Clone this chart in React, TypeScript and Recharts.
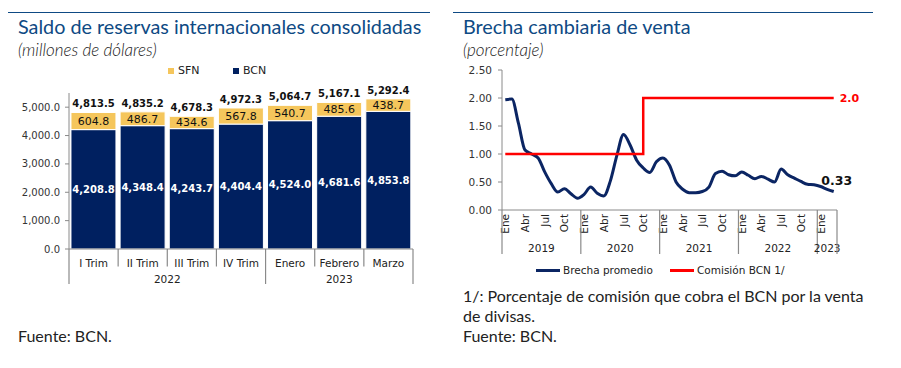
import React from 'react';
import { BarChart, Bar, XAxis, YAxis, LabelList, Legend, LineChart, Line } from 'recharts';

// izquierda: saldo de reservas
const periods = ['I Trim', 'II Trim', 'III Trim', 'IV Trim', 'Enero', 'Febrero', 'Marzo'];
const periodYears = ['2022', '2022', '2022', '2022', '2023', '2023', '2023'];
const bcnValues = [4208.8, 4348.4, 4243.7, 4404.4, 4524.0, 4681.6, 4853.8];
const sfnValues = [604.8, 486.7, 434.6, 567.8, 540.7, 485.6, 438.7];
const totalValues = [4813.5, 4835.2, 4678.3, 4972.3, 5064.7, 5167.1, 5292.4];
const reserveTicks = [0, 1000, 2000, 3000, 4000, 5000];

// derecha: brecha cambiaria
const monthNames = ['Ene', 'Feb', 'Mar', 'Abr', 'May', 'Jun', 'Jul', 'Ago', 'Sep', 'Oct', 'Nov', 'Dic'];
const shownMonths = ['Ene', 'Abr', 'Jul', 'Oct'];
const gapYears = ['2019', '2020', '2021', '2022', '2023'];
const brecha = [
  1.97, 1.98, 1.55, 1.07, 1.0, 0.93, 0.68, 0.47, 0.32, 0.38, 0.29, 0.21,
  0.28, 0.41, 0.3, 0.25, 0.52, 0.98, 1.35, 1.16, 0.89, 0.75, 0.67, 0.86,
  0.93, 0.8, 0.5, 0.37, 0.31, 0.31, 0.33, 0.41, 0.65, 0.69, 0.63, 0.61,
  0.68, 0.62, 0.56, 0.6, 0.55, 0.5, 0.73, 0.63, 0.57, 0.51, 0.46, 0.45,
  0.42, 0.37, 0.33,
];
const comision = [
  1.0, 1.0, 1.0, 1.0, 1.0, 1.0, 1.0, 1.0, 1.0, 1.0, 1.0, 1.0,
  1.0, 1.0, 1.0, 1.0, 1.0, 1.0, 1.0, 1.0, 1.0, 2.0, 2.0, 2.0,
  2.0, 2.0, 2.0, 2.0, 2.0, 2.0, 2.0, 2.0, 2.0, 2.0, 2.0, 2.0,
  2.0, 2.0, 2.0, 2.0, 2.0, 2.0, 2.0, 2.0, 2.0, 2.0, 2.0, 2.0,
  2.0, 2.0, 2.0,
];
const gapTicks = [0, 0.5, 1, 1.5, 2, 2.5];

const NAVY = '#002060';
const GOLD = '#f5c65c';
const LINE_NAVY = '#0b2563';
const TITLE = '#0e4a84';
const AXIS = '#8a8a8a';
const MONO = "'DejaVu Sans', Verdana, sans-serif";

const fmt1 = (v: any) =>
  Number(v).toLocaleString('en-US', { minimumFractionDigits: 1, maximumFractionDigits: 1 });

const barData = periods.map((p, i) => ({
  name: p,
  year: periodYears[i],
  bcn: bcnValues[i],
  sfn: sfnValues[i],
  total: totalValues[i],
}));

const gapData = brecha.map((v, i) => ({
  key: gapYears[Math.floor(i / 12)] + '-' + monthNames[i % 12],
  year: gapYears[Math.floor(i / 12)],
  month: monthNames[i % 12],
  brecha: v,
  comision: comision[i],
}));

const countIn = (rows: { year: string }[], year: string) => rows.filter(r => r.year === year).length;

const PeriodTick = (props: any) => {
  const { x, y, payload, index } = props;
  const half = payload?.offset || 24.6;
  const row = barData[index];
  const first = index === 0 || barData[index - 1].year !== row.year;
  const last = index === barData.length - 1 || barData[index + 1].year !== row.year;
  const n = countIn(barData, row.year);
  return (
    <g>
      <text x={x} y={y + 14} textAnchor="middle" dominantBaseline="central" fontSize={10.5} fontFamily={MONO} fill="#222">
        {payload.value}
      </text>
      {index === 0 && <line x1={x - half} x2={x - half} y1={y} y2={y + 35} stroke={AXIS} strokeWidth={1.2} />}
      <line x1={x + half} x2={x + half} y1={y} y2={last ? y + 35 : y + 17.5} stroke={AXIS} strokeWidth={1.2} />
      {first && (
        <text x={x - half + n * half} y={y + 30} textAnchor="middle" dominantBaseline="central" fontSize={10.5} fontFamily={MONO} fill="#222">
          {row.year}
        </text>
      )}
    </g>
  );
};

const MonthTick = (props: any) => {
  const { x, y, payload, index } = props;
  const half = payload?.offset || 3.29;
  const row = gapData[index];
  const first = index === 0 || gapData[index - 1].year !== row.year;
  const n = countIn(gapData, row.year);
  return (
    <g>
      {shownMonths.includes(row.month) && (
        <text transform={`translate(${x},${y + 4}) rotate(-90)`} textAnchor="end" dominantBaseline="central" fontSize={10.5} fontFamily={MONO} fill="#222">
          {row.month}
        </text>
      )}
      {first && <line x1={x - half} x2={x - half} y1={y} y2={y + 44} stroke={AXIS} strokeWidth={1.2} />}
      {index === gapData.length - 1 && <line x1={x + half} x2={x + half} y1={y} y2={y + 44} stroke={AXIS} strokeWidth={1.2} />}
      {first && (
        <text x={x - half + n * half} y={y + 38} textAnchor="middle" dominantBaseline="central" fontSize={10.5} fontFamily={MONO} fill="#222">
          {row.year}
        </text>
      )}
    </g>
  );
};

const BarLegend = (props: any) => {
  const items = [...(props.payload || [])].reverse();
  return (
    <div style={{ display: 'flex', fontFamily: MONO, fontSize: 11, color: '#222' }}>
      {items.map((it: any) => (
        <div key={it.value} style={{ display: 'flex', alignItems: 'center', width: 65 }}>
          <span style={{ width: 6, height: 6, background: it.color, marginRight: 4 }} />
          <span>{it.value}</span>
        </div>
      ))}
    </div>
  );
};

const LineLegend = (props: any) => {
  const items = props.payload || [];
  return (
    <div style={{ display: 'flex', fontFamily: MONO, fontSize: 10.5, color: '#222' }}>
      {items.map((it: any) => (
        <div key={it.value} style={{ display: 'flex', alignItems: 'center', width: 134 }}>
          <span style={{ width: 24, height: 3, background: it.color, marginRight: 3 }} />
          <span>{it.value}</span>
        </div>
      ))}
    </div>
  );
};

const lastIndex = gapData.length - 1;

const BrechaLabel = (props: any) => {
  const { x, y, value, index } = props;
  if (index !== lastIndex) return null;
  return (
    <text x={x + 3} y={y - 11} textAnchor="middle" dominantBaseline="central" fontSize={12.5} fontWeight="bold" fontFamily={MONO} fill="#111">
      {Number(value).toFixed(2)}
    </text>
  );
};

const ComisionLabel = (props: any) => {
  const { x, y, value, index } = props;
  if (index !== lastIndex) return null;
  return (
    <text x={x + 6} y={y} textAnchor="start" dominantBaseline="central" fontSize={11} fontWeight="bold" fontFamily={MONO} fill="#ff0000">
      {Number(value).toFixed(1)}
    </text>
  );
};

const abs = (left: number, top: number, extra: React.CSSProperties = {}): React.CSSProperties => ({
  position: 'absolute',
  left,
  top,
  ...extra,
});

export default function App() {
  return (
    <div style={{ position: 'absolute', left: 0, top: 0, width: 901, height: 368, background: '#fff', fontFamily: 'Lato, sans-serif', overflow: 'hidden' }}>
      <div style={abs(8, 12, { width: 422, borderTop: `1.5px solid ${TITLE}` })} />
      <div style={abs(453, 12, { width: 420, borderTop: `1.5px solid ${TITLE}` })} />

      <div style={abs(18, 13, { fontSize: 19.8, color: TITLE, lineHeight: '26px', whiteSpace: 'nowrap' })}>
        Saldo de reservas internacionales consolidadas
      </div>
      <div style={abs(18, 38, { fontSize: 17, fontStyle: 'italic', fontWeight: 300, color: '#222', lineHeight: '24px' })}>
        (millones de dólares)
      </div>
      <div style={abs(463, 13, { fontSize: 19.8, color: TITLE, lineHeight: '26px', whiteSpace: 'nowrap' })}>
        Brecha cambiaria de venta
      </div>
      <div style={abs(463, 38, { fontSize: 17, fontStyle: 'italic', fontWeight: 300, color: '#222', lineHeight: '24px' })}>
        (porcentaje)
      </div>

      <div style={abs(0, 0)}>
        <BarChart width={430} height={290} data={barData} margin={{ top: 93, right: 17, bottom: 0, left: 0 }} barCategoryGap="4%">
          <YAxis
            width={69}
            domain={[0, 5500]}
            ticks={reserveTicks}
            tickFormatter={fmt1}
            tick={{ fontSize: 10, fill: '#333', fontFamily: MONO }}
            axisLine={{ stroke: AXIS }}
            tickLine={{ stroke: AXIS }}
            tickSize={4}
            tickMargin={5}
          />
          <XAxis dataKey="name" height={41} interval={0} tick={<PeriodTick />} tickLine={false} tickSize={0} tickMargin={0} axisLine={{ stroke: AXIS }} />
          <Legend verticalAlign="middle" align="center" layout="horizontal" wrapperStyle={{ top: 64, left: 168, width: 140, height: 14 }} content={<BarLegend />} />
          <Bar dataKey="bcn" name="BCN" stackId="r" fill={NAVY} stroke="#fff" strokeWidth={1} isAnimationActive={false}>
            <LabelList dataKey="bcn" position="center" formatter={fmt1} fill="#fff" stroke="none" fontSize={10} fontWeight="bold" fontFamily={MONO} />
          </Bar>
          <Bar dataKey="sfn" name="SFN" stackId="r" fill={GOLD} stroke="#fff" strokeWidth={1} isAnimationActive={false}>
            <LabelList dataKey="sfn" position="center" formatter={fmt1} fill="#111" stroke="none" fontSize={11} fontFamily={MONO} />
            <LabelList dataKey="total" position="top" offset={5} formatter={fmt1} fill="#111" stroke="none" fontSize={10} fontWeight="bold" fontFamily={MONO} />
          </Bar>
        </BarChart>
      </div>

      <div style={abs(450, 0)}>
        <LineChart width={440} height={290} data={gapData} margin={{ top: 70, right: 53, bottom: 0, left: 0 }}>
          <XAxis dataKey="key" scale="band" interval={0} height={80} tick={<MonthTick />} tickLine={false} tickSize={0} tickMargin={0} axisLine={{ stroke: AXIS }} />
          <YAxis
            width={52}
            domain={[0, 2.5]}
            ticks={gapTicks}
            tickFormatter={(v: number) => v.toFixed(2)}
            tick={{ fontSize: 10.5, fill: '#333', fontFamily: MONO }}
            axisLine={{ stroke: AXIS }}
            tickLine={{ stroke: AXIS }}
            tickSize={4}
            tickMargin={6}
          />
          <Legend verticalAlign="middle" align="center" layout="horizontal" wrapperStyle={{ top: 264, left: 86, width: 300, height: 16 }} content={<LineLegend />} />
          <Line type="monotone" dataKey="brecha" name="Brecha promedio" stroke={LINE_NAVY} strokeWidth={3} dot={false} isAnimationActive={false}>
            <LabelList dataKey="brecha" content={<BrechaLabel />} />
          </Line>
          <Line type="stepAfter" dataKey="comision" name="Comisión BCN 1/" stroke="#ff0000" strokeWidth={2.5} dot={false} isAnimationActive={false}>
            <LabelList dataKey="comision" content={<ComisionLabel />} />
          </Line>
        </LineChart>
      </div>

      <div style={abs(18, 326, { fontSize: 16, color: '#222', lineHeight: '20px' })}>Fuente: BCN.</div>
      <div style={abs(463, 286, { fontSize: 16, color: '#222', lineHeight: '20px', width: 430 })}>
        1/: Porcentaje de comisión que cobra el BCN por la venta
        <br />
        de divisas.
        <br />
        Fuente: BCN.
      </div>
    </div>
  );
}
